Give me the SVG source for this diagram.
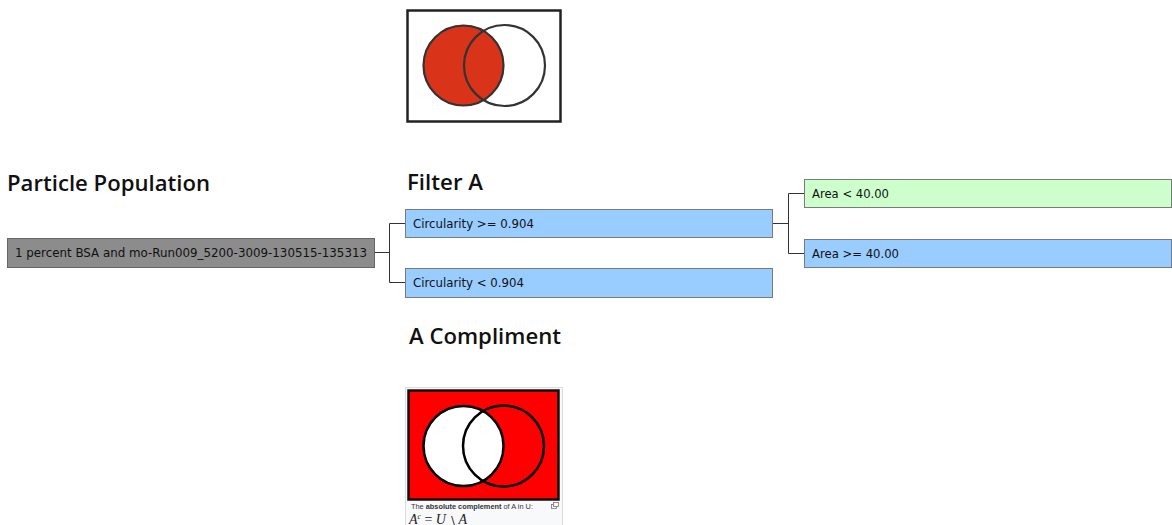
<svg xmlns="http://www.w3.org/2000/svg" width="1172" height="525" viewBox="0 0 1172 525">
  <style>
    .hdr { font-family: "Open Sans", "Liberation Sans", sans-serif; font-weight: 600; font-size: 21px; fill: #111; }
    .lbl { font-family: "DejaVu Sans", Verdana, sans-serif; font-size: 11.4px; fill: #111; }
    .box { stroke: #7a7a7a; stroke-width: 1; }
    .blue { fill: #99ccff; }
    .green { fill: #ccffcc; }
    .grey { fill: #8c8c8c; stroke: #666; }
    .wire { fill: none; stroke: #333; stroke-width: 1; }
    .ring { stroke-width: 2.5; }
  </style>

  <rect width="1172" height="525" fill="#fff"/>

  <!-- Venn: set A highlighted -->
  <g id="venn-a">
    <rect x="407.5" y="10.5" width="153" height="111" fill="#fff" stroke="#222" stroke-width="2.5"/>
    <circle cx="463.5" cy="65.5" r="40" fill="#d9341a" stroke="#333" stroke-width="2.2"/>
    <circle cx="504.5" cy="65.5" r="40.5" fill="none" stroke="#333" stroke-width="2.2"/>
  </g>

  <!-- Venn: complement of A -->
  <g id="venn-complement">
    <rect x="405.5" y="387.5" width="157" height="140" fill="#f8f9fa" stroke="#dcdcdc"/>
    <rect x="408.5" y="390.5" width="150" height="109" fill="#ff0000" stroke="#111" stroke-width="2.5"/>
    <circle cx="463.5" cy="446" r="40" fill="#fff" stroke="#000" class="ring"/>
    <circle cx="503.5" cy="446" r="40.5" fill="none" stroke="#000" class="ring"/>
    <text x="411" y="509" font-family="'Liberation Sans', Arial, sans-serif" font-size="6.5" fill="#333" textLength="122" lengthAdjust="spacingAndGlyphs">The <tspan font-weight="bold">absolute complement</tspan> of A in U:</text>
    <g fill="none" stroke="#777" stroke-width="0.8">
      <rect x="551.5" y="504.5" width="5" height="4"/>
      <rect x="553.5" y="502.5" width="5" height="4" fill="#f8f9fa"/>
    </g>
    <text x="409" y="523.5" font-family="'Liberation Serif', 'Times New Roman', serif" font-size="14" fill="#222"><tspan font-style="italic">A</tspan><tspan font-style="italic" font-size="7.5" dy="-5">c</tspan><tspan dy="5"> = </tspan><tspan font-style="italic">U</tspan><tspan font-size="11"> ∖ </tspan><tspan font-style="italic">A</tspan></text>
  </g>

  <!-- Column headers -->
  <g id="headers">
    <text class="hdr" x="7" y="191" textLength="203" lengthAdjust="spacingAndGlyphs">Particle Population</text>
    <text class="hdr" x="407" y="190" textLength="76" lengthAdjust="spacingAndGlyphs">Filter A</text>
    <text class="hdr" x="409" y="344" textLength="152" lengthAdjust="spacingAndGlyphs">A Compliment</text>
  </g>

  <!-- Tree connectors -->
  <g id="connectors">
    <path class="wire" d="M375 252.5 H389.5 M389.5 223.5 V282.5 M389.5 223.5 H405 M389.5 282.5 H405"/>
    <path class="wire" d="M773 223.5 H788.5 M788.5 193.5 V253.5 M788.5 193.5 H804 M788.5 253.5 H804"/>
  </g>

  <g id="node-population">
    <rect class="box grey" x="7.5" y="238.5" width="367" height="29"/>
    <text class="lbl" x="15" y="257" textLength="352" lengthAdjust="spacingAndGlyphs">1 percent BSA and mo-Run009_5200-3009-130515-135313</text>
  </g>

  <g id="node-circ-ge">
    <rect class="box blue" x="405.5" y="209.5" width="367" height="28"/>
    <text class="lbl" x="413" y="228" textLength="121" lengthAdjust="spacingAndGlyphs">Circularity &gt;= 0.904</text>
  </g>

  <g id="node-circ-lt">
    <rect class="box blue" x="405.5" y="268.5" width="367" height="29"/>
    <text class="lbl" x="413" y="287" textLength="111" lengthAdjust="spacingAndGlyphs">Circularity &lt; 0.904</text>
  </g>

  <g id="node-area-lt">
    <rect class="box green" x="804.5" y="179.5" width="367" height="28"/>
    <text class="lbl" x="812" y="198" textLength="77" lengthAdjust="spacingAndGlyphs">Area &lt; 40.00</text>
  </g>

  <g id="node-area-ge">
    <rect class="box blue" x="804.5" y="239.5" width="367" height="28"/>
    <text class="lbl" x="812" y="258" textLength="87" lengthAdjust="spacingAndGlyphs">Area &gt;= 40.00</text>
  </g>
</svg>
